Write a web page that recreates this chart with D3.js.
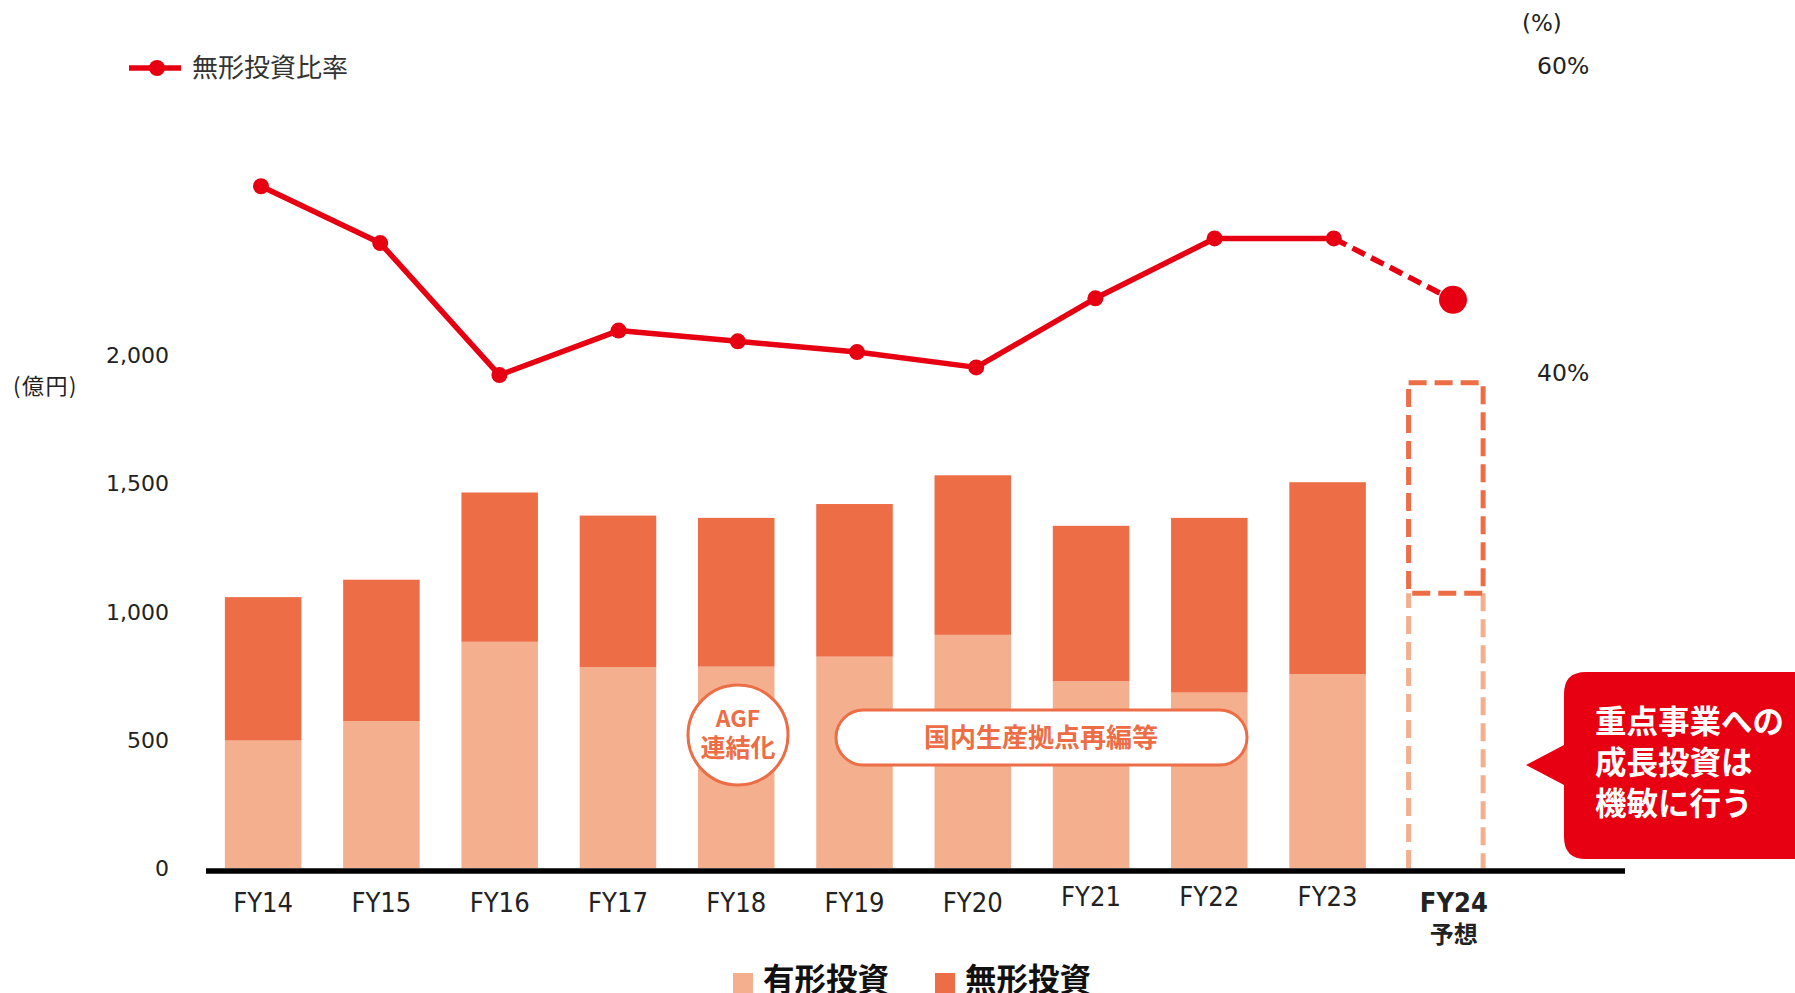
<!DOCTYPE html>
<html><head><meta charset="utf-8">
<script src="https://cdn.jsdelivr.net/npm/d3@7"></script>
<style>
html,body{margin:0;padding:0;background:#fff;overflow:hidden;}
svg{display:block;}
</style></head>
<body>
<svg id="c" width="1795" height="993"></svg>
<script>
// ---- data ----
const categories = ["FY14","FY15","FY16","FY17","FY18","FY19","FY20","FY21","FY22","FY23","FY24"];
const tangible   = [497, 573, 882, 783, 785, 824, 909, 728, 684, 756, 1071];   // 有形投資 (億円)
const intangible = [559, 551, 582, 591, 580, 595, 622, 606, 681, 748, 821];    // 無形投資 (億円)
const ratio      = [52.1, 48.4, 39.8, 42.7, 42.0, 41.3, 40.3, 44.8, 48.7, 48.7, 44.7]; // 無形投資比率 (%)
const leftTicks  = [0, 500, 1000, 1500, 2000];
const rightTicks = [40, 60];
const forecastIndex = 10;

const C_TAN = "#f4b08e", C_INT = "#ed6d46", C_RED = "#e60012", C_TXT = "#222";
const JP = "'Noto Sans CJK JP','Noto Sans CJK SC',sans-serif";
const LAT = "'DejaVu Sans',Verdana,sans-serif";

const svg = d3.select("#c");

const x = d3.scaleBand().domain(categories).range([204, 1505]).paddingInner(0.353).paddingOuter(0.1765);
const xl = d3.scalePoint().domain(categories).range([261, 1453]);
const y = d3.scaleLinear().domain([0, 2000]).range([868, 355]);
const yr = d3.scaleLinear().domain([40, 60]).range([372, 65]);

// ---- bars ----
const rows = categories.map((c, i) => ({c, i, t: tangible[i], n: intangible[i]}));
const solid = rows.filter(d => d.i !== forecastIndex);
svg.append("g").selectAll("rect").data(solid).join("rect")
  .attr("x", d => x(d.c)).attr("width", x.bandwidth())
  .attr("y", d => y(d.t)).attr("height", d => y(0) - y(d.t)).attr("fill", C_TAN);
svg.append("g").selectAll("rect").data(solid).join("rect")
  .attr("x", d => x(d.c)).attr("width", x.bandwidth())
  .attr("y", d => y(d.t + d.n)).attr("height", d => y(d.t) - y(d.t + d.n)).attr("fill", C_INT);

// forecast dashed bar
const f = rows[forecastIndex];
const fx0 = x(f.c) + 1, fx1 = x(f.c) + x.bandwidth() - 1;
const dash = "18,8";
svg.append("path")
  .attr("d", `M${fx0},${y(0)} V${y(f.t)} M${fx1},${y(f.t)} V${y(0)}`)
  .attr("stroke", C_TAN).attr("stroke-width", 5).attr("fill", "none").attr("stroke-dasharray", dash);
svg.append("rect")
  .attr("x", fx0).attr("y", y(f.t + f.n)).attr("width", fx1 - fx0).attr("height", y(f.t) - y(f.t + f.n))
  .attr("stroke", C_INT).attr("stroke-width", 5).attr("fill", "none").attr("stroke-dasharray", dash);

// ---- axis baseline ----
svg.append("line").attr("x1", 206).attr("x2", 1625).attr("y1", 871).attr("y2", 871)
  .attr("stroke", "#000").attr("stroke-width", 5.5);

// ---- left axis ----
const gl = svg.append("g").attr("transform", "translate(169,0)")
  .call(d3.axisLeft(y).tickValues(leftTicks).tickFormat(d3.format(",")).tickSize(0).tickPadding(0));
gl.select(".domain").remove();
gl.selectAll("text").attr("font-family", LAT).attr("font-size", 22).attr("fill", C_TXT).attr("dy", "0.35em");
svg.append("text").attr("x", 13).attr("y", 394).attr("font-family", JP).attr("font-size", 22)
  .attr("letter-spacing", 1.5).attr("fill", C_TXT).text("(億円)");

// ---- right axis ----
const gr = svg.append("g").attr("transform", "translate(1537,0)")
  .call(d3.axisRight(yr).tickValues(rightTicks).tickFormat(d => d + "%").tickSize(0).tickPadding(0));
gr.select(".domain").remove();
gr.selectAll("text").attr("font-family", LAT).attr("font-size", 23.5).attr("fill", C_TXT).attr("dy", "0.35em");
svg.append("text").attr("x", 1522).attr("y", 31).attr("font-family", LAT).attr("font-size", 23)
  .attr("fill", C_TXT).text("(%)");

// ---- x axis labels ----
const gx = svg.append("g").attr("transform", "translate(0,891)")
  .call(d3.axisBottom(x).tickSize(0).tickPadding(0));
gx.select(".domain").remove();
gx.selectAll("text")
  .attr("font-family", LAT).attr("font-size", 27).attr("fill", C_TXT)
  .attr("dx", (d, i) => i === forecastIndex ? 8 : 0)
  .attr("dy", (d, i) => (i >= 7 && i <= 9) ? "0.55em" : "0.78em")
  .attr("textLength", (d, i) => i === forecastIndex ? 68 : 60)
  .attr("lengthAdjust", "spacingAndGlyphs")
  .attr("font-weight", (d, i) => i === forecastIndex ? "bold" : "normal");
svg.append("text").attr("x", x(categories[forecastIndex]) + x.bandwidth() / 2 + 8).attr("y", 943)
  .attr("text-anchor", "middle").attr("font-family", JP).attr("font-weight", 700).attr("font-size", 24)
  .attr("fill", C_TXT).text("予想");

// ---- ratio line ----
const pts = categories.map((c, i) => ({c, i, v: ratio[i]}));
const line = d3.line().x(d => xl(d.c)).y(d => yr(d.v));
svg.append("path").datum(pts.slice(0, forecastIndex)).attr("d", line)
  .attr("fill", "none").attr("stroke", C_RED).attr("stroke-width", 5.5).attr("stroke-linejoin", "round");
svg.append("path").datum(pts.slice(forecastIndex - 1)).attr("d", line)
  .attr("fill", "none").attr("stroke", C_RED).attr("stroke-width", 5.5).attr("stroke-dasharray", "14,7");
svg.append("g").selectAll("circle").data(pts).join("circle")
  .attr("cx", d => xl(d.c)).attr("cy", d => yr(d.v)).attr("r", d => d.i === forecastIndex ? 14 : 8).attr("fill", C_RED);

// ---- top legend ----
svg.append("line").attr("x1", 129).attr("x2", 181).attr("y1", 68).attr("y2", 68).attr("stroke", C_RED).attr("stroke-width", 5.5);
svg.append("circle").attr("cx", 157).attr("cy", 68).attr("r", 8).attr("fill", C_RED);
svg.append("text").attr("x", 192).attr("y", 77).attr("font-family", JP).attr("font-size", 26)
  .attr("fill", "#333").text("無形投資比率");

// ---- bottom legend ----
const legendItems = [{label: "有形投資", color: C_TAN, x: 733}, {label: "無形投資", color: C_INT, x: 935}];
legendItems.forEach(it => {
  svg.append("rect").attr("x", it.x).attr("y", 973).attr("width", 20).attr("height", 21).attr("fill", it.color);
  svg.append("text").attr("x", it.x + 30).attr("y", 991).attr("font-family", JP).attr("font-weight", 700)
    .attr("font-size", 32).attr("textLength", 126).attr("lengthAdjust", "spacingAndGlyphs")
    .attr("fill", "#111").text(it.label);
});

// ---- annotations ----
svg.append("circle").attr("cx", 738).attr("cy", 735).attr("r", 50)
  .attr("fill", "#fff").attr("stroke", C_INT).attr("stroke-width", 3);
svg.append("text").attr("x", 738).attr("y", 727).attr("text-anchor", "middle").attr("font-family", JP)
  .attr("font-weight", 700).attr("font-size", 23).attr("fill", C_INT).text("AGF");
svg.append("text").attr("x", 738).attr("y", 757).attr("text-anchor", "middle").attr("font-family", JP)
  .attr("font-weight", 700).attr("font-size", 25).attr("fill", C_INT).text("連結化");

svg.append("rect").attr("x", 836).attr("y", 710).attr("width", 411).attr("height", 55).attr("rx", 27.5)
  .attr("fill", "#fff").attr("stroke", C_INT).attr("stroke-width", 3);
svg.append("text").attr("x", 1041).attr("y", 747).attr("text-anchor", "middle").attr("font-family", JP)
  .attr("font-weight", 700).attr("font-size", 26).attr("fill", C_INT).text("国内生産拠点再編等");

// callout
const r = 22, L = 1564, T = 672, B = 859, R = 1830;
svg.append("path")
  .attr("d", `M${L + r},${T} H${R} V${B} H${L + r} Q${L},${B} ${L},${B - r} V785 L1526,765 L${L},745 V${T + r} Q${L},${T} ${L + r},${T} Z`)
  .attr("fill", C_RED);
["重点事業への", "成長投資は", "機敏に行う"].forEach((t, i) => {
  svg.append("text").attr("x", 1595).attr("y", 733 + i * 41).attr("font-family", JP).attr("font-weight", 700)
    .attr("font-size", 31.5).attr("fill", "#fff").text(t);
});
</script>
</body></html>
